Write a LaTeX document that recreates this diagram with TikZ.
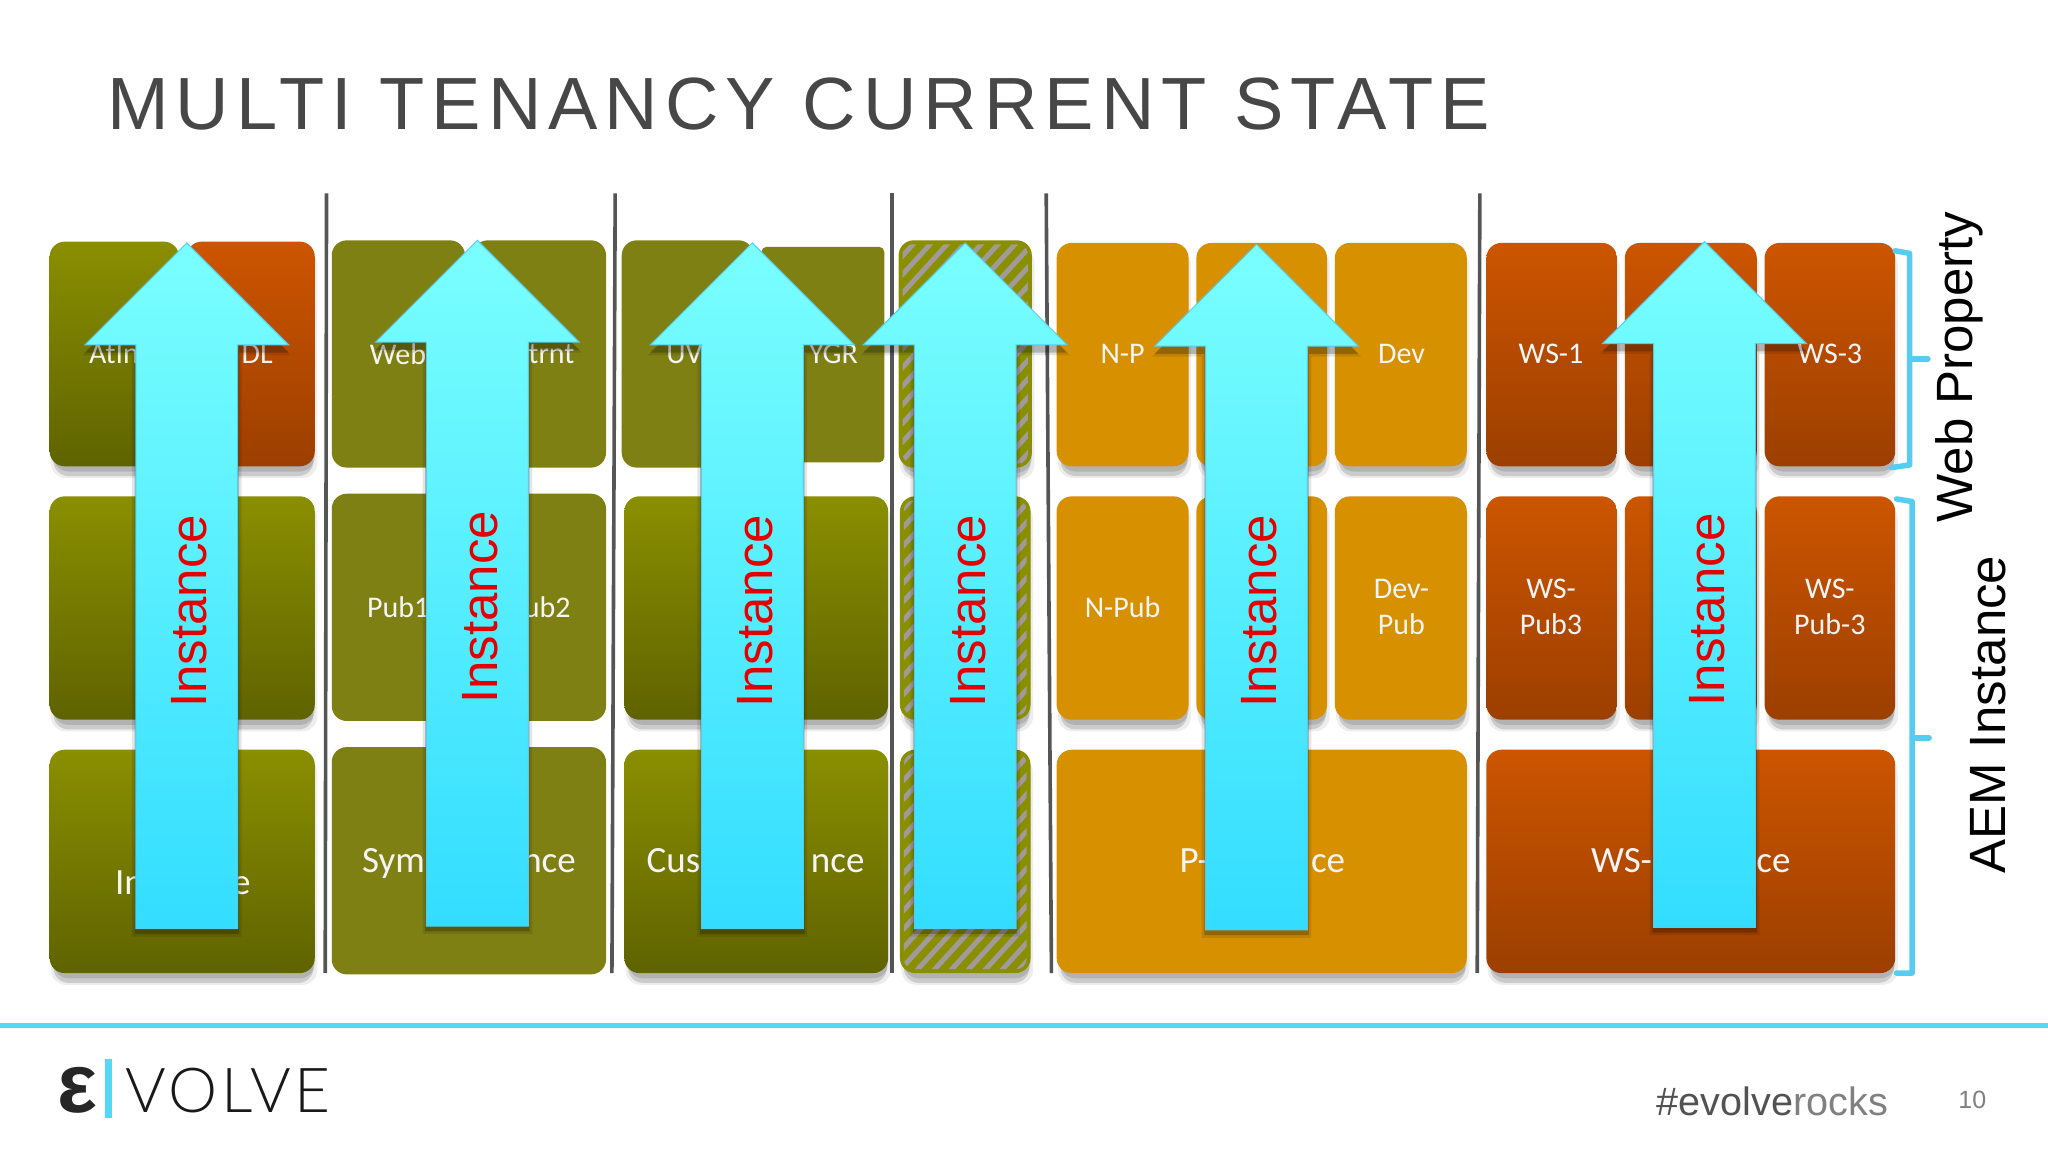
\documentclass[tikz,border=0pt]{standalone}
\usepackage{fontspec}
\setmainfont{Liberation Sans}
\newfontfamily\titlefont[LetterSpace=9.5]{Liberation Sans}
\newfontfamily\labelfont{Carlito}
\newfontfamily\logofont[LetterSpace=5.5]{Lato Light}
\definecolor{olivetop}{HTML}{8A8F00}
\definecolor{olivemid}{HTML}{7C8000}
\definecolor{olivebot}{HTML}{5F6300}
\definecolor{oliveflat}{HTML}{7F8014}
\definecolor{orangeflat}{HTML}{D69000}
\definecolor{redtop}{HTML}{CC5500}
\definecolor{redmid}{HTML}{B84C00}
\definecolor{redbot}{HTML}{9C3F00}
\definecolor{cyantop}{HTML}{7AFFFF}
\definecolor{cyanmid}{HTML}{6CFAFF}
\definecolor{cyanbot}{HTML}{33DDFF}
\definecolor{cyanedge}{HTML}{55CCEE}
\definecolor{bracecol}{HTML}{55CCF0}
\definecolor{rulecol}{HTML}{55D8F5}
\definecolor{divcol}{HTML}{555555}
\definecolor{hatchcol}{HTML}{A09A9A}
\tikzset{
  x=1.30612pt,y=-1.30612pt,
  oliveg/.style={top color=olivetop,middle color=olivemid,bottom color=olivebot},
  redg/.style={top color=redtop,middle color=redmid,bottom color=redbot},
  oliveb/.style={fill=oliveflat},
  orangeb/.style={fill=orangeflat},
  hatchb/.style={fill=olivetop},
  lab/.style={font=\labelfont\fontsize{30}{36}\selectfont,text=white!96!black,inner sep=0pt},
  labbig/.style={font=\labelfont\fontsize{37}{44}\selectfont,text=white!96!black,inner sep=0pt},
  lab2/.style={lab,align=center},
  inst/.style={font=\fontsize{51}{60}\selectfont,text=red!90!black,rotate=90,inner sep=0pt},
  sidetxt/.style={font=\fontsize{51}{60}\selectfont,text=black,rotate=90,inner sep=0pt},
  divider/.style={draw=divcol,line width=3.6pt},
  bracket/.style={draw=bracecol,line width=5.5pt,line join=round,line cap=round},
  arrowfill/.style={top color=cyantop,middle color=cyanmid,bottom color=cyanbot,draw=cyanedge,line width=1pt,line join=miter},
}
\newcommand{\bx}[5]{%
  \fill[black,opacity=.07,rounded corners=15pt] (#1+1,#2+6) rectangle (#3+2,#4+9);
  \fill[black,opacity=.14,rounded corners=15pt] (#1+3,#2+6) rectangle (#3-1,#4+7.5);
  \fill[black,opacity=.12,rounded corners=15pt] (#1+3,#2+6) rectangle (#3+0,#4+4);
  \path[#5,rounded corners=15pt] (#1,#2) rectangle (#3,#4);
}
\newcommand{\hatchbx}[4]{%
  \bx{#1}{#2}{#3}{#4}{hatchb}
  \begin{scope}
    \clip[rounded corners=10pt] (#1+3,#2+3) rectangle (#3-3,#4-3);
    \foreach \k in {-180,-167,...,130}{
      \draw[hatchcol,line width=5pt] (#1-30+\k,#4) -- ++(210,-230);
    }
  \end{scope}
}
\newcommand{\arw}[2]{% centre, tip
  \path[fill=black,opacity=.10] (#1,#2+6) -- (#1+80,#2+86) -- (#1+42,#2+86) -- (#1+42,#2+531) -- (#1-42,#2+531) -- (#1-42,#2+86) -- (#1-80,#2+86) -- cycle;
  \path[fill=black,opacity=.22] (#1,#2+4) -- (#1+78,#2+84) -- (#1+40,#2+84) -- (#1+40,#2+529) -- (#1-40,#2+529) -- (#1-40,#2+84) -- (#1-78,#2+84) -- cycle;
  \path[arrowfill] (#1,#2) -- (#1+78,#2+78) -- (#1+39,#2+78) -- (#1+39,#2+525) -- (#1-39,#2+525) -- (#1-39,#2+78) -- (#1-78,#2+78) -- cycle;
}
\begin{document}
\begin{tikzpicture}
\useasboundingbox (0,0) rectangle (1568,882);
\fill[white] (0,0) rectangle (1568,882);

\node[font=\titlefont\fontsize{74}{80}\selectfont,text=black!72,anchor=west,inner sep=0pt] (title) at (82,79.5) {MULTI TENANCY CURRENT STATE};

% dividers
\draw[divider] (250,148) -- (249,745);
\draw[divider] (471,148) -- (468.5,745);
\draw[divider] (683,148) -- (683,745);
\draw[divider] (801,148) -- (805,745);
\draw[divider] (1133,148) -- (1131,745);

% column 1
\bx{38}{185}{137}{357}{oliveg}
\bx{143}{185}{241}{357}{redg}
\bx{38}{380}{241}{551}{oliveg}
\bx{38}{574}{241}{745}{oliveg}
% column 2
\path[oliveb,rounded corners=15pt] (254,184) rectangle (356,358);
\path[oliveb,rounded corners=15pt] (362,184) rectangle (464,358);
\path[oliveb,rounded corners=15pt] (254,378) rectangle (464,552);
\path[oliveb,rounded corners=15pt] (254,572) rectangle (464,746);
% column 3
\path[oliveb,rounded corners=15pt] (476,184) rectangle (577,358);
\path[oliveb,rounded corners=5pt] (583,189) rectangle (677,354);
\bx{478}{380}{680}{551}{oliveg}
\bx{478}{574}{680}{745}{oliveg}
% column 4
\hatchbx{688}{184}{790}{358}
\hatchbx{689}{380}{789}{551}
\hatchbx{689}{574}{789}{745}
% column 5
\bx{809}{186}{910}{357}{orangeb}
\bx{916}{186}{1016}{357}{orangeb}
\bx{1022}{186}{1123}{357}{orangeb}
\bx{809}{380}{910}{551}{orangeb}
\bx{916}{380}{1016}{551}{orangeb}
\bx{1022}{380}{1123}{551}{orangeb}
\bx{809}{574}{1123}{745}{orangeb}
% column 6
\bx{1138}{186}{1238}{357}{redg}
\bx{1244}{186}{1345}{357}{redg}
\bx{1351}{186}{1451}{357}{redg}
\bx{1138}{380}{1238}{551}{redg}
\bx{1244}{380}{1345}{551}{redg}
\bx{1351}{380}{1451}{551}{redg}
\bx{1138}{574}{1451}{745}{redg}

% labels (as far as the arrows leave them visible)
\node[lab,anchor=west] (l1) at (68,271) {AtIn};
\node[lab,anchor=east] (l2) at (209,271) {DL};
\node[lab,anchor=west] (l3) at (283,271) {Web};
\node[lab,anchor=east] (l4) at (440,271) {trnt};
\node[lab,anchor=west] (l5) at (510,271) {UV};
\node[lab,anchor=east] (l6) at (657,271) {YGR};
\node[lab] (l7) at (859.5,271) {N-P};
\node[lab] (l8) at (1073,271) {Dev};
\node[lab] (l9) at (1187.5,271) {WS-1};
\node[lab] (l10) at (1401,271) {WS-3};
\node[lab,anchor=west] (l11) at (281,465) {Pub1};
\node[lab,anchor=east] (l12) at (437,465) {ub2};
\node[lab] (l13) at (859.5,465) {N-Pub};
\node[lab2] (l14) at (1073,465) {Dev-\\Pub};
\node[lab2] (l15) at (1187.5,465) {WS-\\Pub3};
\node[lab2] (l16) at (1401,465) {WS-\\Pub-3};
\node[labbig,anchor=base west] (l17) at (88,685) {In};
\node[labbig,anchor=base east] (l18) at (192,685) {e};
\node[labbig,anchor=base west] (l19) at (277,668) {Sym};
\node[labbig,anchor=base east] (l20) at (441,668) {nce};
\node[labbig,anchor=base west] (l21) at (495,668) {Cus};
\node[labbig,anchor=base east] (l22) at (662,668) {nce};
\node[labbig,anchor=base west] (l23) at (903,668) {P-};
\node[labbig,anchor=base east] (l24) at (1030,668) {ce};
\node[labbig,anchor=base west] (l25) at (1218,668) {WS-};
\node[labbig,anchor=base east] (l26) at (1371,668) {ce};

% arrows
\arw{143}{186}
\arw{365.5}{184}
\arw{576}{186}
\arw{739}{186}
\arw{962}{187}
\arw{1305}{185}
\node[inst] (i1) at (145,468) {Instance};
\node[inst] (i2) at (368,465) {Instance};
\node[inst] (i3) at (578,468) {Instance};
\node[inst] (i4) at (741,468) {Instance};
\node[inst] (i5) at (964,468) {Instance};
\node[inst] (i6) at (1307,467) {Instance};

% brackets
\draw[bracket] (1451,192) -- (1462,194) -- (1462,356) -- (1448,358);
\draw[bracket] (1462,275) -- (1476,275);
\draw[bracket] (1452,382) -- (1464,384) -- (1464,745) -- (1452,745);
\draw[bracket] (1464,565) -- (1477,565);
\node[sidetxt] (wp) at (1500,281) {Web Property};
\node[sidetxt] (aem) at (1522,547) {AEM Instance};

% footer
\draw[rulecol,line width=5pt] (0,785) -- (1568,785);
\node[font=\bfseries\fontsize{84}{90}\selectfont,text=black!85,inner sep=0pt] (eps) at (59.5,835) {ε};
\draw[rulecol,line width=7pt] (83,811) -- (83,856);
\node[font=\logofont\fontsize{62}{70}\selectfont,text=black!90,anchor=west,inner sep=0pt] (logo) at (96,835) {VOLVE};
\node[font=\fontsize{39.6}{46}\selectfont,anchor=east,inner sep=0pt] (tag) at (1445.5,843) {\textcolor{black!68}{\#evolve}\textcolor{black!50}{rocks}};
\node[font=\fontsize{25}{30}\selectfont,text=black!50,inner sep=0pt] (pg) at (1510,842) {10};
\end{tikzpicture}
\end{document}
